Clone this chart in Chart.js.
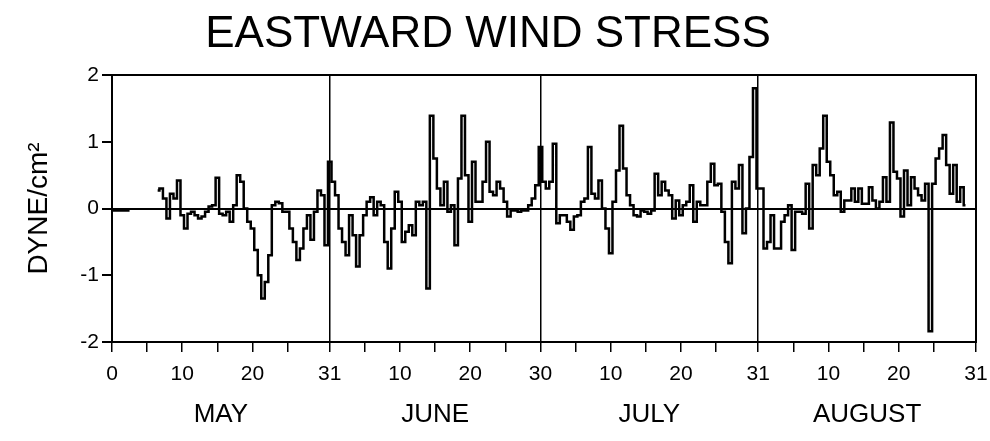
<!DOCTYPE html>
<html>
<head>
<meta charset="utf-8">
<title>Eastward wind stress</title>
<script src="https://cdn.jsdelivr.net/npm/chart.js@4.4.1/dist/chart.umd.min.js"></script>
<style>
    html, body { margin: 0; padding: 0; background: #fff; }
    #wrap { width: 990px; height: 441px; }
</style>
</head>
<body>
<div id="wrap"><canvas id="stress"></canvas></div>
<script>
"use strict";

// wind stress in dyne/cm2, one value every half day
var mayStress = [
    -0.03, -0.03, -0.03, -0.03, -0.03, -0.03,
    null, null, null, null, null, null, null,
    0.27, 0.3, 0.15, -0.15, 0.22, 0.15, 0.42,
    -0.1, -0.3, -0.08, -0.05, -0.1, -0.15, -0.12, -0.05, 0.03, 0.05,
    0.46, -0.08, -0.1, -0.05, -0.2, 0.05, 0.5, 0.4, 0.0, -0.2,
    -0.3, -0.62, -1.0, -1.35, -1.1, -0.7, 0.05, 0.1, 0.08, -0.05,
    -0.05, -0.3, -0.5, -0.77, -0.6, -0.3, -0.1, -0.47, -0.05, 0.27,
    0.2, -0.55
];
var juneStress = [
    0.7, 0.4, 0.2, -0.3, -0.5, -0.7, -0.1, -0.4, -0.87, -0.4,
    -0.1, 0.1, 0.17, -0.1, 0.1, 0.05, -0.5, -0.9, -0.3, 0.25,
    0.1, -0.5, -0.35, -0.25, -0.4, 0.1, 0.05, 0.1, -1.2, 1.39,
    0.75, 0.3, 0.05, 0.4, -0.05, 0.05, -0.55, 0.45, 1.39, 0.5,
    -0.2, 0.7, 0.1, 0.1, 0.4, 1.0, 0.25, 0.2, 0.4, 0.3,
    0.1, -0.12, -0.03, -0.03, -0.05, -0.03, -0.03, 0.05, 0.15, 0.35
];
var julyStress = [
    0.92, 0.4, 0.3, 0.4, 0.97, -0.22, -0.1, -0.1, -0.2, -0.32,
    -0.12, -0.1, 0.1, 0.15, 0.92, 0.22, 0.15, 0.42, 0.0, -0.3,
    -0.67, 0.1, 0.57, 1.24, 0.6, 0.2, 0.05, -0.1, -0.12, -0.03,
    -0.05, -0.08, -0.03, 0.52, 0.2, 0.4, 0.27, 0.2, -0.15, 0.12,
    -0.1, 0.05, 0.1, 0.35, -0.2, 0.1, 0.05, 0.05, 0.4, 0.67,
    0.35, 0.37, -0.05, -0.5, -0.82, 0.4, 0.3, 0.65, -0.37, 0.0,
    0.77, 1.8
];
var augustStress = [
    0.3, 0.3, -0.6, -0.5, -0.1, -0.6, -0.6, -0.2, -0.1, 0.05,
    -0.62, -0.05, -0.05, -0.08, 0.37, -0.3, 0.65, 0.5, 0.9, 1.39,
    0.7, 0.5, 0.2, 0.25, -0.05, 0.12, 0.12, 0.3, 0.1, 0.3,
    0.07, 0.07, 0.32, 0.12, 0.0, 0.1, 0.47, 0.1, 1.29, 0.55,
    0.45, -0.12, 0.57, 0.05, 0.47, 0.3, 0.2, 0.12, 0.37, -1.84,
    0.37, 0.75, 0.9, 1.1, 0.65, 0.22, 0.65, 0.1, 0.32, 0.05,
    null, null
];

var monthNames = ["MAY", "JUNE", "JULY", "AUGUST"];
var monthStart = [0, 31, 61, 92];
var monthLength = [31, 30, 31, 31];

// day-of-season positions of the bottom ticks and their labels
var tickDays = [0, 5, 10, 15, 20, 25, 31, 36, 41, 46, 51, 56, 61,
                66, 71, 76, 81, 86, 92, 97, 102, 107, 112, 117, 123];
var tickLabels = ["0", "", "10", "", "20", "", "31", "", "10", "", "20", "", "30",
                  "", "10", "", "20", "", "31", "", "10", "", "20", "", "31"];
var yTicks = [-2, -1, 0, 1, 2];

var FONT = "'Liberation Sans', Arial, Helvetica, sans-serif";

function toPoints(values, start) {
    return values.map(function(v, i) { return {x: start + i * 0.5, y: v}; });
}

var points = [].concat(
    toPoints(mayStress, monthStart[0]),
    toPoints(juneStress, monthStart[1]),
    toPoints(julyStress, monthStart[2]),
    toPoints(augustStress, monthStart[3])
);
var lastDay = monthStart[3] + monthLength[3];
var monthCenters = monthStart.map(function(s, i) { return s + monthLength[i] / 2; });
var monthEnds = monthStart.slice(1);

// fix the size of a box so the plot lands where the original has it
function fixSize(prop, size) {
    return function(scale) {
        scale[prop] = size;
        scale.paddingLeft = 0; scale.paddingRight = 0;
        scale.paddingTop = 0; scale.paddingBottom = 0;
    };
}

Chart.defaults.color = "#000";
Chart.defaults.font.family = FONT;

new Chart(document.getElementById("stress"), {
    type: "line",
    data: {
        datasets: [{
            data: points,
            borderColor: "#000",
            borderWidth: 2.5,
            pointRadius: 0,
            stepped: "middle",
            spanGaps: false,
            fill: false
        }]
    },
    options: {
        responsive: true,
        maintainAspectRatio: false,
        animation: false,
        layout: { padding: { left: 0, right: 14, top: 0, bottom: 0 } },
        plugins: {
            legend: { display: false },
            tooltip: { enabled: false },
            title: {
                display: true,
                text: "EASTWARD WIND STRESS",
                color: "#000",
                font: { size: 44, weight: "normal", lineHeight: 1 },
                padding: { top: 13, bottom: 18 }
            }
        },
        scales: {
            x: {
                type: "linear",
                position: "bottom",
                min: 0,
                max: lastDay,
                afterBuildTicks: function(scale) {
                    scale.ticks = tickDays.map(function(d) { return {value: d}; });
                },
                afterFit: fixSize("height", 45),
                ticks: {
                    autoSkip: false,
                    maxRotation: 0,
                    padding: 10,
                    font: { size: 21 },
                    callback: function(v, i) { return tickLabels[i]; }
                },
                grid: {
                    color: function(ctx) {
                        return ctx.tick && monthEnds.indexOf(ctx.tick.value) >= 0 ? "#000" : "rgba(0,0,0,0)";
                    },
                    lineWidth: 1.5,
                    tickColor: "#000",
                    tickWidth: 1.5,
                    tickLength: 10
                },
                border: { display: true, color: "#000", width: 2 }
            },
            months: {
                type: "linear",
                position: "bottom",
                min: 0,
                max: lastDay,
                afterBuildTicks: function(scale) {
                    scale.ticks = monthCenters.map(function(d) { return {value: d}; });
                },
                afterFit: fixSize("height", 54),
                ticks: {
                    autoSkip: false,
                    maxRotation: 0,
                    padding: 12,
                    font: { size: 26 },
                    callback: function(v, i) { return monthNames[i]; }
                },
                grid: { display: false, drawTicks: false },
                border: { display: false }
            },
            xTop: {
                type: "linear",
                position: "top",
                min: 0,
                max: lastDay,
                afterFit: fixSize("height", 0),
                ticks: { display: false },
                grid: { display: false, drawTicks: false },
                border: { display: true, color: "#000", width: 2 }
            },
            y: {
                min: -2,
                max: 2,
                afterBuildTicks: function(scale) {
                    scale.ticks = yTicks.map(function(v) { return {value: v}; });
                },
                afterFit: fixSize("width", 112),
                ticks: {
                    padding: 3,
                    font: { size: 21 }
                },
                grid: {
                    color: function(ctx) {
                        return ctx.tick && ctx.tick.value === 0 ? "#000" : "rgba(0,0,0,0)";
                    },
                    lineWidth: 2,
                    tickColor: "#000",
                    tickWidth: 2,
                    tickLength: 10
                },
                border: { display: true, color: "#000", width: 2 },
                title: {
                    display: true,
                    text: "DYNE/cm\u00B2",
                    font: { size: 28 },
                    padding: { top: 22, bottom: 0 }
                }
            },
            yRight: {
                position: "right",
                min: -2,
                max: 2,
                afterFit: fixSize("width", 0),
                ticks: { display: false },
                grid: { display: false, drawTicks: false },
                border: { display: true, color: "#000", width: 2 }
            }
        }
    }
});
</script>
</body>
</html>
